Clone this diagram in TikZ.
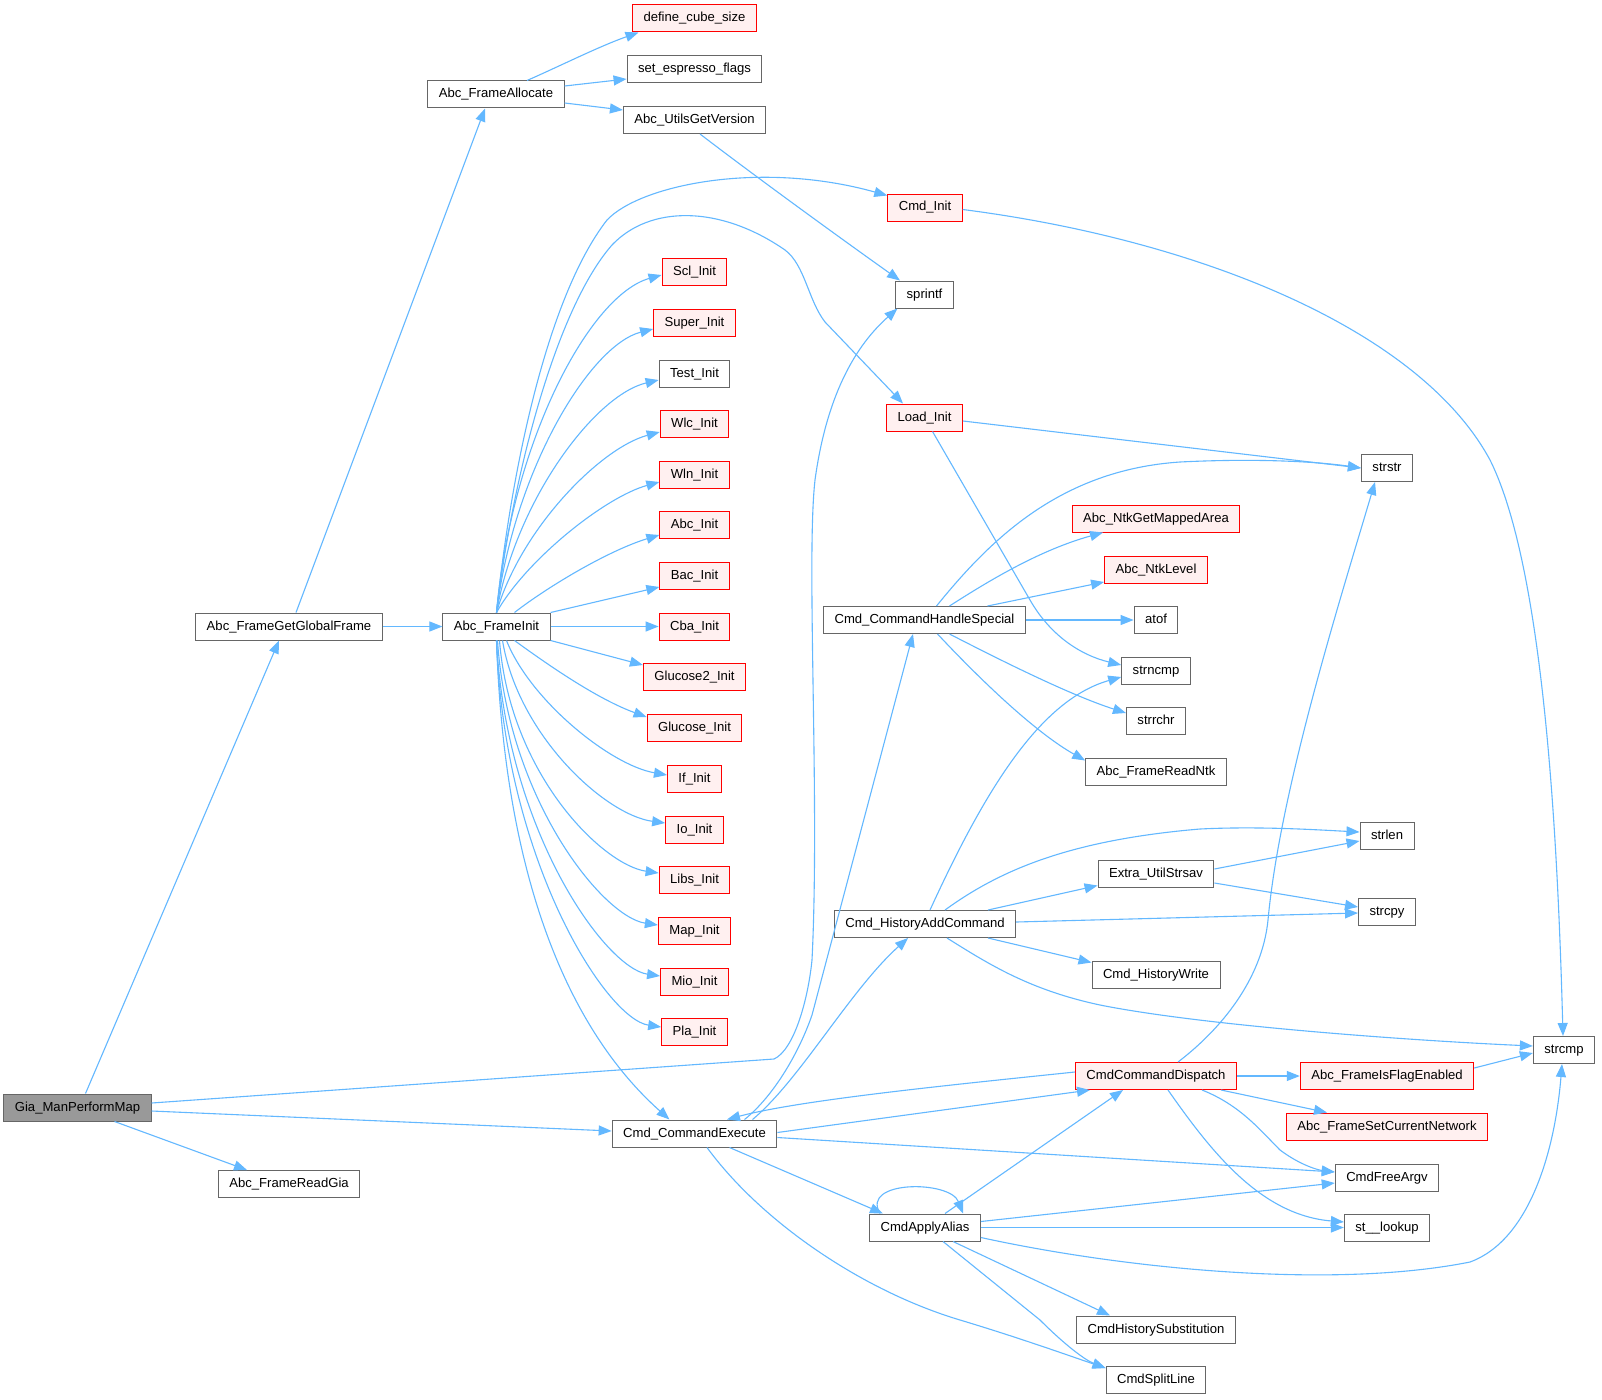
\documentclass[tikz,border=0pt]{standalone}
\usepackage{fontspec}
\setmainfont{Liberation Sans}
\usetikzlibrary{arrows.meta}
\definecolor{edgec}{HTML}{63B8FF}
\definecolor{nborder}{HTML}{666666}
\definecolor{rfill}{HTML}{FFF0F0}
\definecolor{rborder}{HTML}{FF0000}
\definecolor{gfill}{HTML}{999999}
\begin{document}
\begin{tikzpicture}[x=1pt,y=-1pt,
  box/.style={draw=nborder, fill=white, line width=1pt, minimum height=27pt, inner xsep=11pt, inner ysep=0pt, text height=9.6pt, text depth=2.6pt, font=\fontsize{13.1pt}{15pt}\selectfont, anchor=center},
  rbox/.style={box, draw=rborder, fill=rfill},
  gbox/.style={box, fill=gfill},
  edge/.style={draw=edgec, line width=1.1pt, -{Triangle[length=13pt,width=10pt]}}]
\useasboundingbox[fill=white] (0,0) rectangle (1602,1399);

\node[gbox] (gia) at (77.5,1107.5) {Gia\_ManPerformMap};
\node[box] (rgia) at (289,1184) {Abc\_FrameReadGia};
\node[box] (ggf) at (289,626.5) {Abc\_FrameGetGlobalFrame};
\node[box] (fa) at (496,94.5) {Abc\_FrameAllocate};
\node[box] (fi) at (496.5,626.5) {Abc\_FrameInit};
\node[rbox] (dcs) at (694.5,18.5) {define\_cube\_size};
\node[box] (sef) at (694.5,69.5) {set\_espresso\_flags};
\node[box] (ugv) at (694.5,120) {Abc\_UtilsGetVersion};
\node[rbox] (scl) at (694.5,271.5) {Scl\_Init};
\node[rbox] (super) at (694.5,322.5) {Super\_Init};
\node[box] (test) at (694.5,373.5) {Test\_Init};
\node[rbox] (wlc) at (694.5,424) {Wlc\_Init};
\node[rbox] (wln) at (694.5,474.5) {Wln\_Init};
\node[rbox] (abci) at (694.5,525) {Abc\_Init};
\node[rbox] (bac) at (694.5,576) {Bac\_Init};
\node[rbox] (cba) at (694.5,626.5) {Cba\_Init};
\node[rbox] (glu2) at (694.5,677) {Glucose2\_Init};
\node[rbox] (glu) at (694.5,727.5) {Glucose\_Init};
\node[rbox] (ifi) at (694.5,778.5) {If\_Init};
\node[rbox] (io) at (694.5,829.5) {Io\_Init};
\node[rbox] (libs) at (694.5,880) {Libs\_Init};
\node[rbox] (map) at (694.5,931) {Map\_Init};
\node[rbox] (mio) at (694.5,981.5) {Mio\_Init};
\node[rbox] (pla) at (694.5,1032) {Pla\_Init};
\node[box] (ce) at (694.5,1133.5) {Cmd\_CommandExecute};
\node[rbox] (cmdinit) at (925,207.5) {Cmd\_Init};
\node[box] (sprintf) at (924.5,294.5) {sprintf};
\node[rbox] (load) at (924.5,417.5) {Load\_Init};
\node[box] (chs) at (924.5,620) {Cmd\_CommandHandleSpecial};
\node[box] (hac) at (925,924) {Cmd\_HistoryAddCommand};
\node[box] (caa) at (925,1227.5) {CmdApplyAlias};
\node[rbox] (ntkarea) at (1156,518.5) {Abc\_NtkGetMappedArea};
\node[rbox] (ntklevel) at (1156,569.5) {Abc\_NtkLevel};
\node[box] (atof) at (1156,620) {atof};
\node[box] (strncmp) at (1156,670.5) {strncmp};
\node[box] (strrchr) at (1156,721) {strrchr};
\node[box] (readntk) at (1156,771.5) {Abc\_FrameReadNtk};
\node[box] (strsav) at (1156,873.5) {Extra\_UtilStrsav};
\node[box] (hwrite) at (1156,974.5) {Cmd\_HistoryWrite};
\node[rbox] (ccd) at (1156,1076) {CmdCommandDispatch};
\node[box] (hsub) at (1156,1329.5) {CmdHistorySubstitution};
\node[box] (split) at (1156,1380) {CmdSplitLine};
\node[box] (strstr) at (1387,468) {strstr};
\node[box] (strlen) at (1387,836) {strlen};
\node[box] (strcpy) at (1387,912) {strcpy};
\node[rbox] (flag) at (1387,1076) {Abc\_FrameIsFlagEnabled};
\node[rbox] (setnet) at (1387,1126.5) {Abc\_FrameSetCurrentNetwork};
\node[box] (freeargv) at (1387,1177.5) {CmdFreeArgv};
\node[box] (lookup) at (1387,1227.5) {st\_\_lookup};
\node[box] (strcmp) at (1564,1050) {strcmp};

% Gia_ManPerformMap
\draw[edge] ([xshift=8pt]gia.north) -- ([xshift=-10pt]ggf.south);
\draw[edge] ([xshift=37pt]gia.south) -- ([xshift=-42pt]rgia.north);
\draw[edge] ([yshift=-3.5pt]gia.east) -- ([yshift=2.5pt]ce.west);
\draw[edge] ([yshift=4.5pt]gia.east) -- (774,1059) .. controls (794,1050) and (808,1000) .. (812,960) .. controls (820,800) and (806,560) .. (815,480) .. controls (828,385) and (862,340) .. ([xshift=-27pt]sprintf.south);
% Abc_FrameGetGlobalFrame
\draw[edge] ([xshift=7pt]ggf.north) -- ([xshift=-11pt]fa.south);
\draw[edge] (ggf.east) -- (fi.west);
% Abc_FrameAllocate
\draw[edge] ([xshift=31pt]fa.north) .. controls (560,66) and (600,46) .. ([xshift=-56pt]dcs.south);
\draw[edge] ([yshift=8.5pt]fa.east) -- ([yshift=-9.5pt]sef.west);
\draw[edge] ([yshift=-8.5pt]fa.east) -- ([yshift=10pt]ugv.west);
\draw[edge] ([xshift=5.5pt]ugv.south) .. controls (760,180) and (850,245) .. ([xshift=-24.5pt]sprintf.north);
% Abc_FrameInit
\draw[edge] (fi.north) .. controls (510,480) and (545,300) .. (607,220) .. controls (640,185) and (760,160) .. ([yshift=12pt]cmdinit.west);
\draw[edge] (fi.north) .. controls (512,480) and (555,310) .. (612,245) .. controls (650,205) and (720,205) .. (785,250) .. controls (805,265) and (808,300) .. (825,322) -- ([xshift=-21.5pt]load.north);
\draw[edge] (fi.north) .. controls (512,440) and (590,295) .. ([yshift=-3.5pt]scl.west);
\draw[edge] (fi.north) .. controls (514,470) and (590,345) .. ([yshift=-6.5pt]super.west);
\draw[edge] (fi.north) .. controls (516,500) and (595,395) .. ([yshift=-6.5pt]test.west);
\draw[edge] (fi.north) .. controls (520,530) and (600,448) .. ([yshift=-8pt]wlc.west);
\draw[edge] (fi.north) .. controls (526,560) and (605,497) .. ([yshift=-7.5pt]wln.west);
\draw[edge] ([xshift=18pt]fi.north) .. controls (550,585) and (610,550) .. ([yshift=-10pt]abci.west);
\draw[edge] (fi.north east) -- ([yshift=-11pt]bac.west);
\draw[edge] (fi.east) -- (cba.west);
\draw[edge] (fi.south east) -- ([yshift=12pt]glu2.west);
\draw[edge] ([xshift=18pt]fi.south) .. controls (555,670) and (600,700) .. ([yshift=10.5pt]glu.west);
\draw[edge] ([xshift=10pt]fi.south) .. controls (530,700) and (610,765) .. ([yshift=3.5pt]ifi.west);
\draw[edge] ([xshift=6pt]fi.south) .. controls (518,735) and (605,815) .. ([yshift=6.5pt]io.west);
\draw[edge] ([xshift=3pt]fi.south) .. controls (510,775) and (603,865) .. ([yshift=7pt]libs.west);
\draw[edge] ([xshift=1pt]fi.south) .. controls (508,800) and (603,917) .. ([yshift=6pt]map.west);
\draw[edge] (fi.south) .. controls (506,830) and (605,968) .. ([yshift=5.5pt]mio.west);
\draw[edge] (fi.south) .. controls (504,860) and (606,1019) .. ([yshift=5pt]pla.west);
\draw[edge] (fi.south) .. controls (505,900) and (580,1040) .. ([xshift=-25pt]ce.north);
% Cmd_CommandExecute
\draw[edge] ([xshift=50pt]ce.north) .. controls (775,1095) and (800,1050) .. (812,1015) -- ([xshift=-11.5pt]chs.south);
\draw[edge] ([xshift=58pt]ce.north) .. controls (800,1080) and (850,990) .. ([xshift=-17pt]hac.south);
\draw[edge] ([yshift=4pt]ccd.west) .. controls (950,1085) and (800,1100) .. ([xshift=32.5pt]ce.north);
\draw[edge] ([yshift=1pt]ce.east) -- ([xshift=-66pt]ccd.south);
\draw[edge] ([yshift=-4pt]ce.east) -- ([yshift=5.5pt]freeargv.west);
\draw[edge] ([xshift=35pt]ce.south) -- ([xshift=-42pt]caa.north);
\draw[edge] ([xshift=12.5pt]ce.south) .. controls (760,1220) and (860,1290) .. (960,1320) .. controls (1020,1338) and (1070,1356) .. ([yshift=12pt]split.west);
% Cmd_CommandHandleSpecial / Load_Init
\draw[edge] ([xshift=12pt]chs.north) .. controls (990,540) and (1060,470) .. (1180,462) .. controls (1260,458) and (1320,462) .. (strstr.west);
\draw[edge] ([yshift=-3.5pt]load.east) -- (strstr.west);
\draw[edge] ([xshift=25pt]chs.north) .. controls (990,580) and (1040,550) .. ([xshift=-53pt]ntkarea.south);
\draw[edge] ([xshift=63pt]chs.north) -- ([yshift=-12.5pt]ntklevel.west);
\draw[edge] (chs.east) -- (atof.west);
\draw[edge] ([xshift=25pt]chs.south) .. controls (1000,660) and (1070,695) .. ([yshift=8pt]strrchr.west);
\draw[edge] ([xshift=13pt]chs.south) .. controls (990,690) and (1040,735) .. ([yshift=11pt]readntk.west);
\draw[edge] ([xshift=8pt]load.south) -- (1030,600) .. controls (1050,635) and (1080,655) .. ([yshift=5.5pt]strncmp.west);
% Cmd_Init
\draw[edge] ([yshift=-2pt]cmdinit.east) .. controls (1200,240) and (1420,330) .. (1490,460) .. controls (1545,570) and (1558,850) .. ([xshift=-1pt]strcmp.north);
% Cmd_HistoryAddCommand
\draw[edge] ([xshift=5pt]hac.north) .. controls (985,790) and (1040,700) .. ([yshift=-6.5pt]strncmp.west);
\draw[edge] ([xshift=20pt]hac.north) .. controls (1000,870) and (1070,840) .. (1200,829) .. controls (1260,826) and (1320,830) .. ([yshift=4pt]strlen.west);
\draw[edge] ([xshift=63pt]hac.north) -- ([yshift=-12pt]strsav.west);
\draw[edge] ([yshift=2pt]hac.east) -- ([yshift=-1pt]strcpy.west);
\draw[edge] ([xshift=63pt]hac.south) -- ([yshift=12pt]hwrite.west);
\draw[edge] ([xshift=22pt]hac.south) .. controls (990,965) and (1030,990) .. (1100,1005) .. controls (1200,1025) and (1400,1040) .. ([yshift=4pt]strcmp.west);
\draw[edge] ([yshift=4.5pt]strsav.east) -- ([yshift=-5pt]strlen.west);
\draw[edge] ([yshift=-9.5pt]strsav.east) -- ([yshift=5pt]strcpy.west);
% CmdCommandDispatch
\draw[edge] ([xshift=22pt]ccd.north) .. controls (1220,1030) and (1262,980) .. (1268,920) .. controls (1280,790) and (1340,600) .. ([xshift=-12pt]strstr.south);
\draw[edge] (ccd.east) -- (flag.west);
\draw[edge] ([yshift=8pt]flag.east) -- ([yshift=-3pt]strcmp.west);
\draw[edge] ([xshift=65pt]ccd.south) -- ([xshift=-60pt]setnet.north);
\draw[edge] ([xshift=46pt]ccd.south) .. controls (1240,1105) and (1260,1130) .. (1280,1150) .. controls (1300,1165) and (1318,1170) .. ([yshift=5.5pt]freeargv.west);
\draw[edge] ([xshift=12pt]ccd.south) .. controls (1210,1150) and (1260,1215) .. ([yshift=5.5pt]lookup.west);
% CmdApplyAlias
\draw[edge] ([xshift=-45pt]caa.north) .. controls (860,1180) and (950,1180) .. ([xshift=38pt]caa.north);
\draw[edge] ([xshift=20pt]caa.north) -- ([xshift=-33pt]ccd.south);
\draw[edge] ([yshift=6pt]caa.east) -- ([yshift=-5.5pt]freeargv.west);
\draw[edge] (caa.east) -- (lookup.west);
\draw[edge] ([yshift=-10pt]caa.east) .. controls (1120,1268) and (1330,1290) .. (1470,1262) .. controls (1530,1240) and (1555,1150) .. ([xshift=-2pt]strcmp.south);
\draw[edge] ([xshift=28pt]caa.south) -- ([xshift=-46pt]hsub.north);
\draw[edge] ([xshift=18pt]caa.south) -- (1040,1320) .. controls (1065,1345) and (1085,1360) .. ([yshift=12pt]split.west);
\end{tikzpicture}
\end{document}
